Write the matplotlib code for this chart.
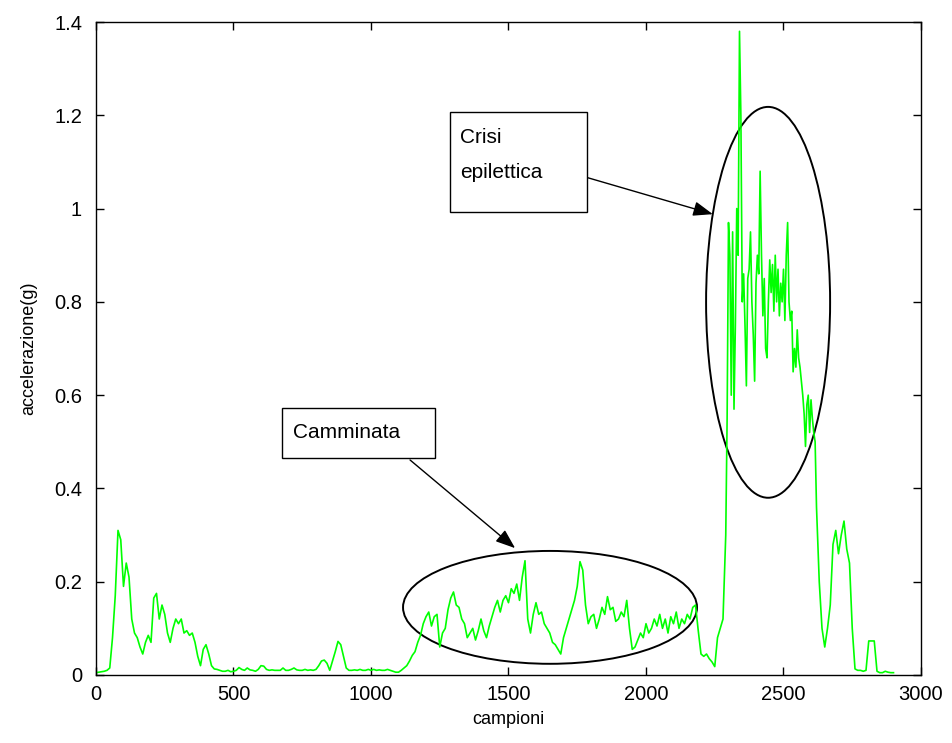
import numpy as np
import matplotlib
matplotlib.use("Agg")
import matplotlib.pyplot as plt
from matplotlib.patches import Ellipse, Rectangle

plt.rcParams['font.family'] = ['Liberation Sans', 'DejaVu Sans']

# ---- data (acceleration in g), sampled segments ----
rest_start, rest_step = 0, 10
rest_vals = [0.005, 0.006, 0.007, 0.008, 0.010, 0.015, 0.08, 0.17, 0.31, 0.29,
             0.19, 0.24, 0.21, 0.12, 0.09, 0.08, 0.06, 0.045, 0.07, 0.085,
             0.07, 0.165, 0.175, 0.12, 0.15, 0.13, 0.09, 0.07, 0.10, 0.12,
             0.11, 0.12, 0.09, 0.095, 0.085, 0.09, 0.07, 0.04, 0.02, 0.055,
             0.065, 0.045, 0.02, 0.013, 0.012, 0.010, 0.008, 0.008, 0.010, 0.007,
             0.008, 0.010, 0.016, 0.012, 0.010, 0.015, 0.011, 0.010, 0.008, 0.012,
             0.020, 0.019, 0.012, 0.010, 0.011, 0.010, 0.010, 0.010, 0.015, 0.010,
             0.010, 0.012, 0.015, 0.011, 0.010, 0.010, 0.012, 0.010, 0.011, 0.010,
             0.012, 0.020, 0.030, 0.032, 0.025, 0.010, 0.030, 0.050, 0.072, 0.065,
             0.040, 0.015, 0.010, 0.010, 0.011, 0.010, 0.012, 0.010, 0.010, 0.012,
             0.010, 0.012, 0.010, 0.011, 0.010, 0.010, 0.012, 0.010, 0.008, 0.006]

walk_start, walk_step = 1100, 10
walk_vals = [0.006, 0.010, 0.015, 0.020, 0.030, 0.042, 0.050, 0.070, 0.085, 0.110,
             0.125, 0.135, 0.105, 0.125, 0.130, 0.060, 0.090, 0.100, 0.140, 0.165,
             0.178, 0.150, 0.145, 0.120, 0.110, 0.080, 0.090, 0.100, 0.075, 0.095,
             0.120, 0.095, 0.080, 0.105, 0.125, 0.145, 0.160, 0.135, 0.160, 0.170,
             0.155, 0.185, 0.175, 0.195, 0.160, 0.210, 0.245, 0.120, 0.090, 0.130,
             0.155, 0.130, 0.135, 0.110, 0.100, 0.090, 0.070, 0.065, 0.055, 0.045,
             0.080, 0.100, 0.120, 0.140, 0.160, 0.190, 0.243, 0.225, 0.150, 0.110,
             0.125, 0.130, 0.100, 0.120, 0.145, 0.130, 0.168, 0.140, 0.145, 0.115,
             0.120, 0.135, 0.125, 0.160, 0.100, 0.055, 0.060, 0.075, 0.090, 0.080,
             0.110, 0.090, 0.100, 0.120, 0.105, 0.130, 0.100, 0.120, 0.090, 0.125,
             0.110, 0.135, 0.100, 0.120, 0.110, 0.130, 0.120, 0.145, 0.150, 0.095,
             0.045, 0.040, 0.045, 0.035, 0.028, 0.018, 0.080, 0.100, 0.120, 0.300]

seiz_start, seiz_step = 2295, 5
seiz_vals = [0.55, 0.97, 0.90, 0.60, 0.95, 0.57, 0.75, 1.00, 0.90, 1.38,
             1.20, 0.80, 0.86, 0.75, 0.62, 0.85, 0.87, 0.95, 0.80, 0.73,
             0.63, 0.84, 0.90, 0.86, 1.08, 0.90, 0.77, 0.85, 0.70, 0.68,
             0.80, 0.89, 0.82, 0.88, 0.78, 0.90, 0.80, 0.87, 0.77, 0.84,
             0.80, 0.87, 0.76, 0.90, 0.97, 0.80, 0.76, 0.78, 0.65, 0.70,
             0.66, 0.74, 0.68, 0.66, 0.63, 0.60, 0.56, 0.49, 0.58, 0.60,
             0.52, 0.59, 0.55, 0.52, 0.50]

tail_start, tail_step = 2620, 10
tail_vals = [0.36, 0.20, 0.10, 0.06, 0.10, 0.15, 0.28, 0.31, 0.26, 0.30,
             0.33, 0.27, 0.24, 0.10, 0.013, 0.010, 0.010, 0.008, 0.010, 0.073,
             0.073, 0.073, 0.008, 0.005, 0.005, 0.008, 0.006, 0.005, 0.005]

segments = [(rest_start, rest_step, rest_vals), (walk_start, walk_step, walk_vals),
            (seiz_start, seiz_step, seiz_vals), (tail_start, tail_step, tail_vals)]
x = np.concatenate([s + st * np.arange(len(v)) for s, st, v in segments])
y = np.concatenate([np.asarray(v, float) for _, _, v in segments])

xticks = [0, 500, 1000, 1500, 2000, 2500, 3000]
yticks = [0, 0.2, 0.4, 0.6, 0.8, 1.0, 1.2, 1.4]
ytick_labels = ['0', '0.2', '0.4', '0.6', '0.8', '1', '1.2', '1.4']

# ---- figure ----
fig = plt.figure(figsize=(9.52, 7.43), dpi=100)
ax = fig.add_axes([96 / 952, 1 - 675 / 743, 825 / 952, 653 / 743])
ax.plot(x, y, color='#00ff00', lw=1.2)

ax.set_xlim(0, 3000)
ax.set_ylim(0, 1.4)
ax.set_xticks(xticks)
ax.set_xticklabels([str(t) for t in xticks])
ax.set_yticks(yticks)
ax.set_yticklabels(ytick_labels)
ax.tick_params(direction='in', length=6, width=1, top=True, right=True,
               labelsize=14.5)
ax.tick_params(axis='y', pad=10)
ax.tick_params(axis='x', pad=7)
for sp in ax.spines.values():
    sp.set_linewidth(1.0)
ax.set_xlabel('campioni', fontsize=13, labelpad=5)
ax.set_ylabel('accelerazione(g)', fontsize=13, labelpad=12)

# annotations (data coordinates)
ax.add_patch(Ellipse((1651, 0.145), 1069, 0.242, fill=False, ec='black', lw=1.4))
ax.add_patch(Ellipse((2444, 0.799), 451, 0.838, fill=False, ec='black', lw=1.4))

ax.add_patch(Rectangle((676, 0.465), 557, 0.107, fill=True, fc='white', ec='black', lw=1.0))
ax.text(716, 0.519, 'Camminata', fontsize=15, va='center', ha='left')
ax.add_patch(Rectangle((1287, 0.993), 498, 0.214, fill=True, fc='white', ec='black', lw=1.0))
ax.text(1324, 1.153, 'Crisi', fontsize=15, va='center', ha='left')
ax.text(1324, 1.078, 'epilettica', fontsize=15, va='center', ha='left')

arrow_kw = dict(arrowstyle='-|>,head_length=1.2,head_width=0.45', color='black', lw=1.0,
                shrinkA=0, shrinkB=0)
ax.annotate('', xy=(1524, 0.272), xytext=(1142, 0.461), arrowprops=arrow_kw)
ax.annotate('', xy=(2243, 0.988), xytext=(1789, 1.066), arrowprops=arrow_kw)

fig.savefig('out.png', dpi=100)
